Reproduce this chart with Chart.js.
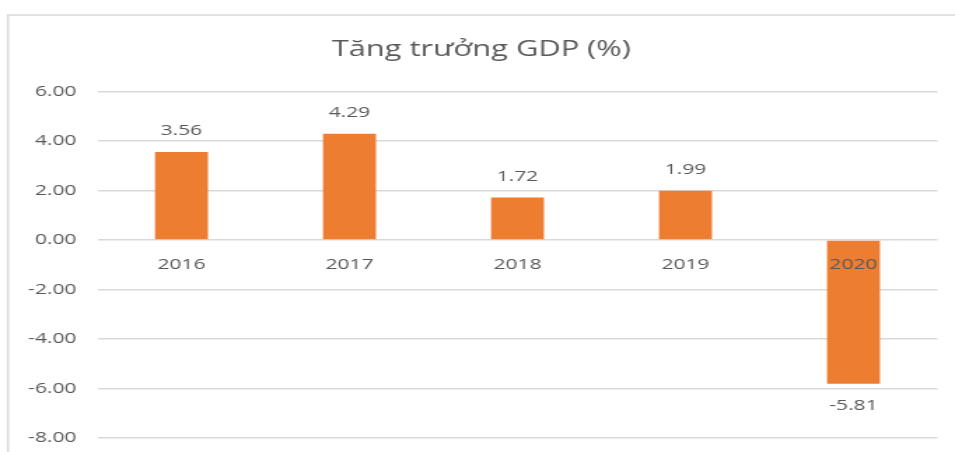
<!DOCTYPE html>
<html>
<head>
<meta charset="utf-8">
<script src="https://cdn.jsdelivr.net/npm/chart.js@4.4.0/dist/chart.umd.min.js"></script>
<style>
  html, body { margin: 0; padding: 0; background: #fff; }
</style>
</head>
<body>
<canvas id="c" width="682" height="452" style="display:block;width:955px;height:452px"></canvas>
<script>
var years = ["2016", "2017", "2018", "2019", "2020"];
var growth = [3.56, 4.29, 1.72, 1.99, -5.81];
var yMin = -8, yMax = 6, yStep = 2;
var chartTitle = "Tăng trưởng GDP (%)";

var textColor = "#595959";
var gridColor = "#d9d9d9";
var fontName = "'Open Sans', sans-serif";

// light frame round the whole chart, like the Excel chart border
var framePlugin = {
	id: 'frame',
	beforeDraw: function(chart) {
		var ctx = chart.ctx;
		ctx.save();
		ctx.fillStyle = '#fff';
		ctx.fillRect(0, 0, chart.width, chart.height);
		ctx.strokeStyle = gridColor;
		ctx.lineWidth = 1.5;
		ctx.strokeRect(5.7, 15, chart.width + 20, chart.height + 20);
		ctx.restore();
	}
};

// value labels above / below each bar
var valueLabels = {
	id: 'valueLabels',
	afterDatasetsDraw: function(chart) {
		var ctx = chart.ctx;
		var meta = chart.getDatasetMeta(0);
		ctx.save();
		ctx.font = "15px " + fontName;
		ctx.fillStyle = textColor;
		ctx.textAlign = 'center';
		ctx.textBaseline = 'middle';
		meta.data.forEach(function(bar, i) {
			var v = growth[i];
			var y = v >= 0 ? bar.y - 21 : bar.y + 22;
			ctx.fillText(v.toFixed(2), bar.x, y);
		});
		ctx.restore();
	}
};

new Chart(document.getElementById("c"), {
	type: 'bar',
	data: {
		labels: years,
		datasets: [{
			label: chartTitle,
			data: growth,
			backgroundColor: "#ed7d31",
			borderWidth: 0,
			barPercentage: 1,
			categoryPercentage: 0.315
		}]
	},
	options: {
		responsive: false,
		animation: false,
		devicePixelRatio: 1,
		layout: {
			padding: { left: 18, right: 12.5, top: 0, bottom: 14 }
		},
		plugins: {
			legend: { display: false },
			tooltip: { enabled: false },
			title: {
				display: true,
				text: chartTitle,
				color: textColor,
				font: { family: fontName, size: 22, weight: 'normal' },
				padding: { top: 36.5, bottom: 28.6 }
			}
		},
		scales: {
			x: {
				position: { y: 0 },
				afterFit: function(scale) { scale.height = 0; },
				grid: { display: false },
				border: { display: false },
				ticks: {
					color: textColor,
					font: { family: fontName, size: 15 },
					padding: 8,
					z: 1
				}
			},
			y: {
				min: yMin,
				max: yMax,
				afterFit: function(scale) { scale.width = 51.6; },
				// invisible tick marks keep the labels clear of the plot
				grid: { color: gridColor, lineWidth: 1.4, drawTicks: true, tickLength: 15, tickColor: 'rgba(0,0,0,0)' },
				border: { display: false },
				ticks: {
					stepSize: yStep,
					color: textColor,
					font: { family: fontName, size: 15 },
					padding: 0,
					callback: function(v) { return v.toFixed(2); }
				}
			}
		}
	},
	plugins: [framePlugin, valueLabels]
});
</script>
</body>
</html>
